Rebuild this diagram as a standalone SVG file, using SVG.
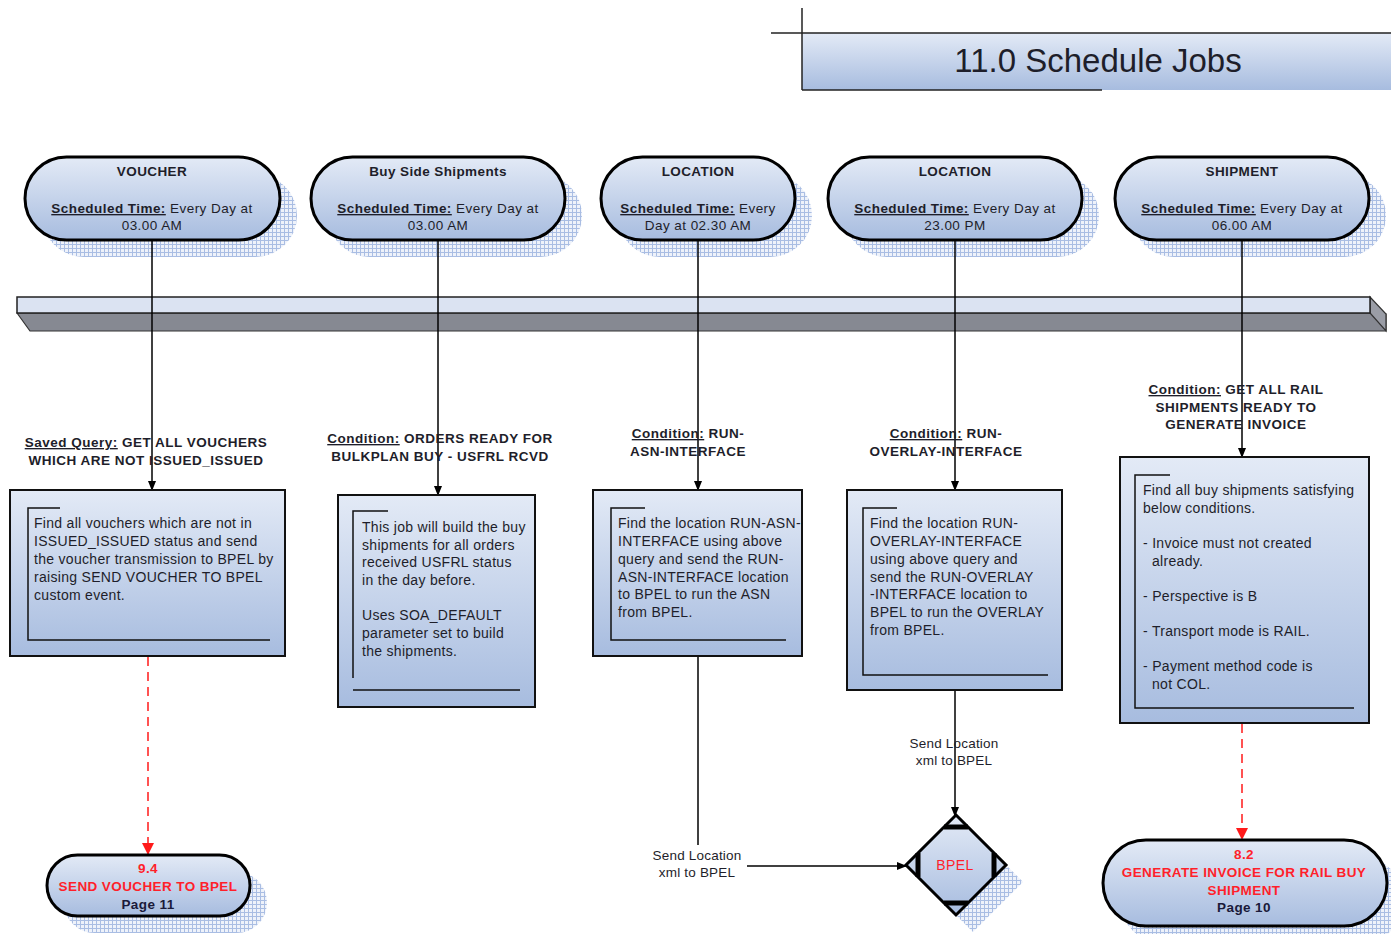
<svg xmlns="http://www.w3.org/2000/svg" width="1391" height="934" viewBox="0 0 1391 934">
<defs>
<linearGradient id="g" x1="0" y1="0" x2="0" y2="1">
<stop offset="0" stop-color="#e3eaf6"/>
<stop offset="1" stop-color="#a7bcdf"/>
</linearGradient>
<pattern id="chk" width="4" height="4" patternUnits="userSpaceOnUse">
<rect width="4" height="4" fill="#eef2fa"/>
<path d="M0 0.5H4M0.5 0V4" stroke="#a9bde3" stroke-width="1"/>
</pattern>
<marker id="ah" markerWidth="10" markerHeight="10" refX="9" refY="5" orient="auto" markerUnits="userSpaceOnUse">
<path d="M0 1L10 5L0 9Z" fill="#000"/>
</marker>
<marker id="rh" markerWidth="14" markerHeight="14" refX="12" refY="6" orient="auto" markerUnits="userSpaceOnUse">
<path d="M0 0L12 6L0 12Z" fill="#ff1a1a"/>
</marker>
</defs>
<style>
text{font-family:"Liberation Sans",Arial,sans-serif;fill:#1e1e2a}
.pill{fill:url(#g);stroke:#000;stroke-width:3}
.shadow{fill:url(#chk)}
.box{fill:url(#g);stroke:#111;stroke-width:2}
.br{fill:none;stroke:#111;stroke-width:1.5}
.pt{font-size:13.5px;font-weight:bold;letter-spacing:0.4px;text-anchor:middle}
.ps{font-size:13.5px;letter-spacing:0.45px;text-anchor:middle}
.u{text-decoration:underline;font-weight:bold}
.lb{font-size:13.5px;font-weight:bold;letter-spacing:0.5px;text-anchor:middle}
.bt{font-size:14px;letter-spacing:0.3px}
.red{fill:#ff1f2a;font-size:13.5px;font-weight:bold;letter-spacing:0.4px;text-anchor:middle}
.pg{fill:#1a1a3a;font-size:13.5px;font-weight:bold;letter-spacing:0.4px;text-anchor:middle}
.cl{fill:none;stroke:#000;stroke-width:1.5}
.dl{fill:none;stroke:#ff1a1a;stroke-width:1.5;stroke-dasharray:9 6}
.sl{font-size:13.5px;text-anchor:middle;letter-spacing:0.2px}
</style>

<g id="title">
<rect x="802" y="33" width="589" height="57" fill="url(#g)"/>
<line x1="771" y1="33" x2="1391" y2="33" stroke="#222" stroke-width="1.5"/>
<line x1="802" y1="8" x2="802" y2="90" stroke="#222" stroke-width="1.5"/>
<line x1="802" y1="90" x2="1102" y2="90" stroke="#222" stroke-width="1.5"/>
<text x="1098" y="72" text-anchor="middle" style="font-size:33px">11.0 Schedule Jobs</text>
</g>

<g id="bar">
<polygon points="17,313 30,331 1386,331 1386,314 1370,313" fill="#868992" stroke="#333" stroke-width="1.2"/>
<polygon points="1370,297 1386,314 1386,331 1370,313" fill="#9a9da6" stroke="#333" stroke-width="1.2"/>
<rect x="17" y="297" width="1353" height="16" fill="#dbe3f2" stroke="#222" stroke-width="1.5"/>
</g>

<g id="voucher">
<rect class="shadow" x="42" y="174" width="255" height="83" rx="41.5"/>
<rect class="pill" x="25" y="157" width="255" height="83" rx="41.5"/>
<text class="pt" x="152" y="176">VOUCHER</text>
<text class="ps" x="152" y="213"><tspan class="u">Scheduled Time:</tspan> Every Day at</text>
<text class="ps" x="152" y="230">03.00 AM</text>
</g>

<g id="buyside">
<rect class="shadow" x="328" y="174" width="254" height="83" rx="41.5"/>
<rect class="pill" x="311" y="157" width="254" height="83" rx="41.5"/>
<text class="pt" x="438" y="176">Buy Side Shipments</text>
<text class="ps" x="438" y="213"><tspan class="u">Scheduled Time:</tspan> Every Day at</text>
<text class="ps" x="438" y="230">03.00 AM</text>
</g>

<g id="location1">
<rect class="shadow" x="618" y="174" width="194" height="83" rx="41.5"/>
<rect class="pill" x="601" y="157" width="194" height="83" rx="41.5"/>
<text class="pt" x="698" y="176">LOCATION</text>
<text class="ps" x="698" y="213"><tspan class="u">Scheduled Time:</tspan> Every</text>
<text class="ps" x="698" y="230">Day at 02.30 AM</text>
</g>

<g id="location2">
<rect class="shadow" x="845" y="174" width="254" height="83" rx="41.5"/>
<rect class="pill" x="828" y="157" width="254" height="83" rx="41.5"/>
<text class="pt" x="955" y="176">LOCATION</text>
<text class="ps" x="955" y="213"><tspan class="u">Scheduled Time:</tspan> Every Day at</text>
<text class="ps" x="955" y="230">23.00 PM</text>
</g>

<g id="shipment">
<rect class="shadow" x="1132" y="174" width="254" height="83" rx="41.5"/>
<rect class="pill" x="1115" y="157" width="254" height="83" rx="41.5"/>
<text class="pt" x="1242" y="176">SHIPMENT</text>
<text class="ps" x="1242" y="213"><tspan class="u">Scheduled Time:</tspan> Every Day at</text>
<text class="ps" x="1242" y="230">06.00 AM</text>
</g>

<g id="connectors">
<line class="cl" x1="152" y1="240" x2="152" y2="490" marker-end="url(#ah)"/>
<line class="cl" x1="438" y1="240" x2="438" y2="495" marker-end="url(#ah)"/>
<line class="cl" x1="698" y1="240" x2="698" y2="490" marker-end="url(#ah)"/>
<line class="cl" x1="955" y1="240" x2="955" y2="490" marker-end="url(#ah)"/>
<line class="cl" x1="1242" y1="240" x2="1242" y2="457" marker-end="url(#ah)"/>
<line class="dl" x1="148" y1="657" x2="148" y2="855" marker-end="url(#rh)"/>
<line class="dl" x1="1242" y1="724" x2="1242" y2="840" marker-end="url(#rh)"/>
<line class="cl" x1="698" y1="656" x2="698" y2="845"/>
<line class="cl" x1="747" y1="866" x2="906" y2="866" marker-end="url(#ah)"/>
<line class="cl" x1="955" y1="690" x2="955" y2="816" marker-end="url(#ah)"/>
<text class="sl" x="697" y="860">Send Location</text>
<text class="sl" x="697" y="877">xml to BPEL</text>
<text class="sl" x="954" y="748">Send Location</text>
<text class="sl" x="954" y="765">xml to BPEL</text>
</g>

<g id="labels">
<text class="lb" x="146" y="447"><tspan class="u">Saved Query:</tspan> GET ALL VOUCHERS</text>
<text class="lb" x="146" y="465">WHICH ARE NOT ISSUED_ISSUED</text>
<text class="lb" x="440" y="443"><tspan class="u">Condition:</tspan> ORDERS READY FOR</text>
<text class="lb" x="440" y="461">BULKPLAN BUY - USFRL RCVD</text>
<text class="lb" x="688" y="438"><tspan class="u">Condition:</tspan> RUN-</text>
<text class="lb" x="688" y="456">ASN-INTERFACE</text>
<text class="lb" x="946" y="438"><tspan class="u">Condition:</tspan> RUN-</text>
<text class="lb" x="946" y="456">OVERLAY-INTERFACE</text>
<text class="lb" x="1236" y="394"><tspan class="u">Condition:</tspan> GET ALL RAIL</text>
<text class="lb" x="1236" y="412">SHIPMENTS READY TO</text>
<text class="lb" x="1236" y="429">GENERATE INVOICE</text>
</g>

<g id="box-voucher">
<rect class="box" x="10" y="490" width="275" height="166"/>
<path class="br" d="M60 508H28V640H270"/>
<text class="bt" x="34" y="528">Find all vouchers which are not in</text>
<text class="bt" x="34" y="546">ISSUED_ISSUED status and send</text>
<text class="bt" x="34" y="564">the voucher transmission to BPEL by</text>
<text class="bt" x="34" y="582">raising SEND VOUCHER TO BPEL</text>
<text class="bt" x="34" y="600">custom event.</text>
</g>

<g id="box-buyside">
<rect class="box" x="338" y="495" width="197" height="212"/>
<path class="br" d="M388 511H353V678"/>
<line class="br" x1="353" y1="690" x2="520" y2="690"/>
<text class="bt" x="362" y="532">This job will build the buy</text>
<text class="bt" x="362" y="550">shipments for all orders</text>
<text class="bt" x="362" y="567">received USFRL status</text>
<text class="bt" x="362" y="585">in the day before.</text>
<text class="bt" x="362" y="620">Uses SOA_DEFAULT</text>
<text class="bt" x="362" y="638">parameter set to build</text>
<text class="bt" x="362" y="656">the shipments.</text>
</g>

<g id="box-location1">
<rect class="box" x="593" y="490" width="209" height="166"/>
<path class="br" d="M645 508H611V640H786"/>
<text class="bt" x="618" y="528">Find the location RUN-ASN-</text>
<text class="bt" x="618" y="546">INTERFACE using above</text>
<text class="bt" x="618" y="564">query and send the RUN-</text>
<text class="bt" x="618" y="582">ASN-INTERFACE location</text>
<text class="bt" x="618" y="599">to BPEL to run the ASN</text>
<text class="bt" x="618" y="617">from BPEL.</text>
</g>

<g id="box-location2">
<rect class="box" x="847" y="490" width="215" height="200"/>
<path class="br" d="M897 508H863V675H1048"/>
<text class="bt" x="870" y="528">Find the location RUN-</text>
<text class="bt" x="870" y="546">OVERLAY-INTERFACE</text>
<text class="bt" x="870" y="564">using above query and</text>
<text class="bt" x="870" y="582">send the RUN-OVERLAY</text>
<text class="bt" x="870" y="599">-INTERFACE location to</text>
<text class="bt" x="870" y="617">BPEL to run the OVERLAY</text>
<text class="bt" x="870" y="635">from BPEL.</text>
</g>

<g id="box-shipment">
<rect class="box" x="1120" y="457" width="249" height="266"/>
<path class="br" d="M1170 475H1135V708H1354"/>
<text class="bt" x="1143" y="495">Find all buy shipments satisfying</text>
<text class="bt" x="1143" y="513">below conditions.</text>
<text class="bt" x="1143" y="548">- Invoice must not created</text>
<text class="bt" x="1152" y="566">already.</text>
<text class="bt" x="1143" y="601">- Perspective is B</text>
<text class="bt" x="1143" y="636">- Transport mode is RAIL.</text>
<text class="bt" x="1143" y="671">- Payment method code is</text>
<text class="bt" x="1152" y="689">not COL.</text>
</g>

<g id="send-voucher">
<rect class="shadow" x="64" y="872" width="203" height="61" rx="30.5"/>
<rect class="pill" x="47" y="855" width="203" height="61" rx="30.5"/>
<text class="red" x="148" y="873">9.4</text>
<text class="red" x="148" y="891">SEND VOUCHER TO BPEL</text>
<text class="pg" x="148" y="909">Page 11</text>
</g>

<g id="generate-invoice">
<rect class="shadow" x="1120" y="857" width="284" height="86" rx="43"/>
<rect class="pill" x="1103" y="840" width="284" height="86" rx="43"/>
<text class="red" x="1244" y="859">8.2</text>
<text class="red" x="1244" y="877">GENERATE INVOICE FOR RAIL BUY</text>
<text class="red" x="1244" y="895">SHIPMENT</text>
<text class="pg" x="1244" y="912">Page 10</text>
</g>

<g id="bpel">
<polygon class="shadow" points="973,832 1023,882 973,932 923,882"/>
<polygon points="956,815 1006,865 956,915 906,865" fill="url(#g)" stroke="#000" stroke-width="3"/>
<g stroke="#000" stroke-width="5" stroke-linecap="butt">
<line x1="944" y1="827" x2="968" y2="827"/>
<line x1="944" y1="903" x2="968" y2="903"/>
<line x1="918" y1="853" x2="918" y2="877"/>
<line x1="994" y1="853" x2="994" y2="877"/>
</g>
<text x="955" y="870" style="fill:#ff1f2a;font-size:14px;letter-spacing:0.4px" text-anchor="middle">BPEL</text>
</g>
</svg>
